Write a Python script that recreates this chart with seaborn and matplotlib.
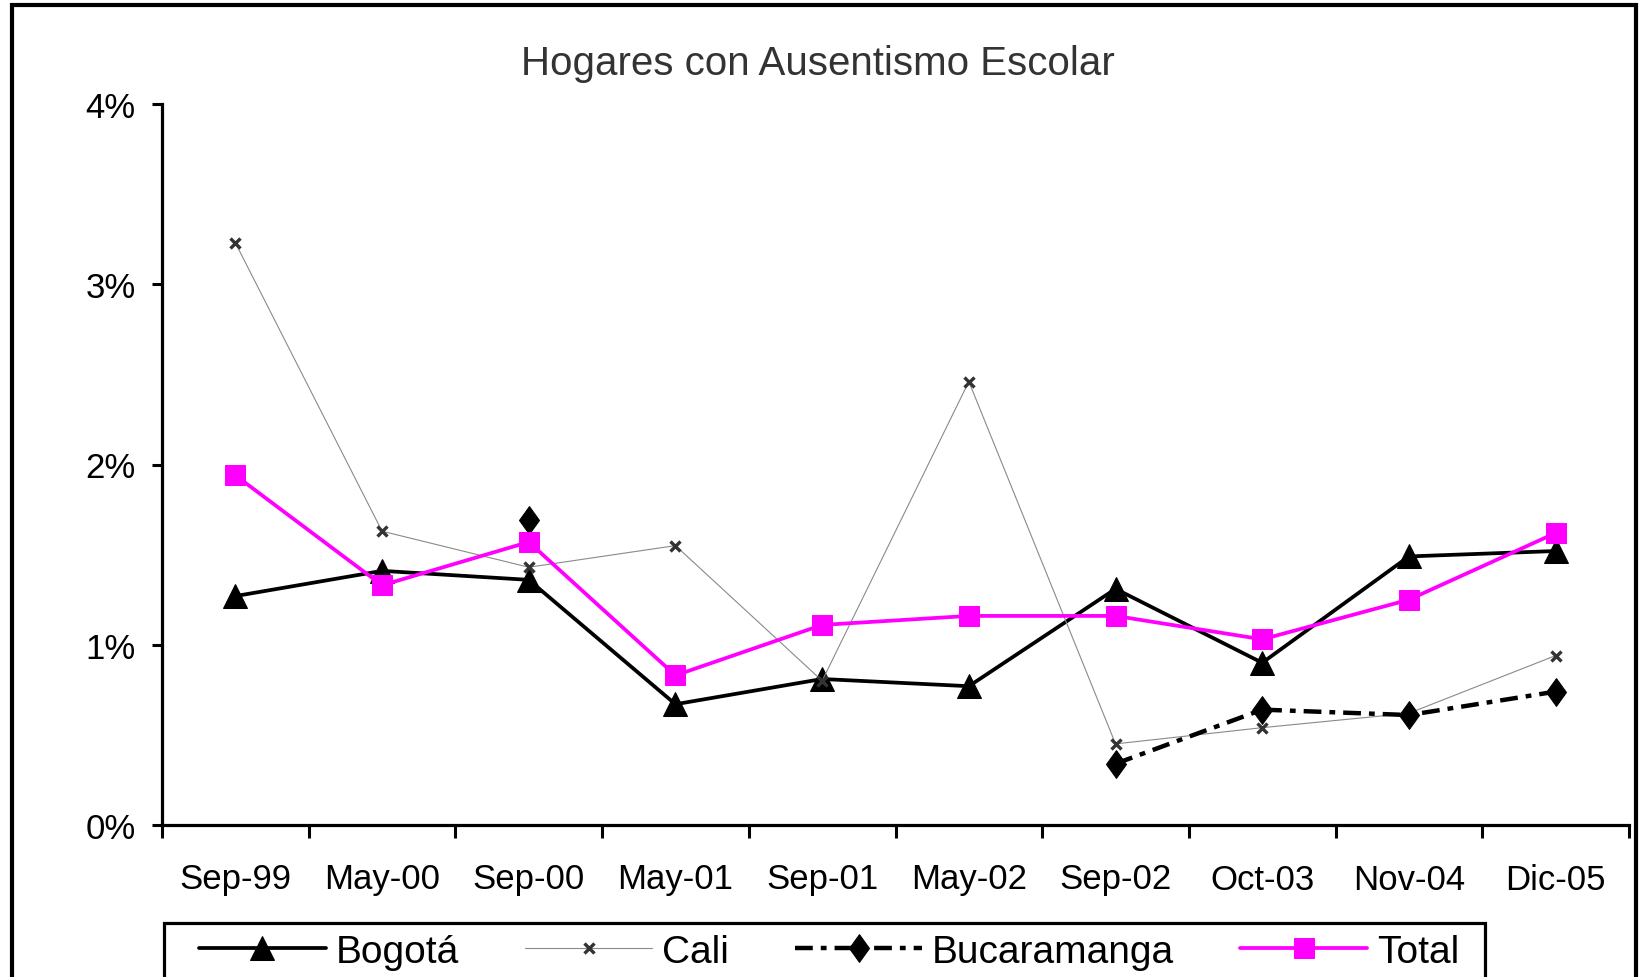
import matplotlib
matplotlib.use("Agg")
import matplotlib.pyplot as plt
import seaborn as sns
import numpy as np
from matplotlib.patches import Rectangle

# ---- data (percent) ----
periods = ["Sep-99", "May-00", "Sep-00", "May-01", "Sep-01", "May-02", "Sep-02", "Oct-03", "Nov-04", "Dic-05"]
bogota = [1.27, 1.41, 1.36, 0.67, 0.81, 0.77, 1.31, 0.90, 1.49, 1.52]
cali = [3.23, 1.63, 1.43, 1.55, 0.80, 2.46, 0.45, 0.54, 0.62, 0.94]
bucaramanga = [np.nan, np.nan, 1.69, np.nan, np.nan, np.nan, 0.34, 0.64, 0.61, 0.74]
total = [1.94, 1.33, 1.57, 0.83, 1.11, 1.16, 1.16, 1.03, 1.25, 1.62]
yticks = [0, 1, 2, 3, 4]
title = "Hogares con Ausentismo Escolar"

sns.set_theme(style="white")
FONT = ["Liberation Sans Narrow", "Liberation Sans", "DejaVu Sans"]
plt.rcParams["font.family"] = FONT

W, H = 1639, 978
fig = plt.figure(figsize=(W / 100, H / 100), dpi=100)
ax = fig.add_axes([162 / W, 1 - 826 / H, (1629 - 162) / W, (826 - 105) / H])

x = np.arange(len(periods))

sns.lineplot(x=x, y=bogota, ax=ax, color="black", linewidth=2.7, marker="^",
             markersize=17, markeredgecolor="black", markerfacecolor="black", label="Bogotá")
sns.lineplot(x=x, y=cali, ax=ax, color="#8a8a8a", linewidth=0.8, marker="x",
             markersize=7, markeredgewidth=2.4, markeredgecolor="#333333", label="Cali")

diamond = [(0, 1), (0.72, 0), (0, -1), (-0.72, 0), (0, 1)]
buc = np.array(bucaramanga)
seg_mask = x >= 6
sns.lineplot(x=x[seg_mask], y=buc[seg_mask], ax=ax, color="black", linewidth=3.2,
             linestyle=(0, (4, 1.8, 1.3, 1.8)), marker=diamond, markersize=20,
             markeredgecolor="black", markerfacecolor="black", label="Bucaramanga")
iso_mask = x == 2
sns.lineplot(x=x[iso_mask], y=buc[iso_mask], ax=ax, color="black", linewidth=0,
             marker=diamond, markersize=20, markeredgecolor="black",
             markerfacecolor="black", label="_nolegend_")

sns.lineplot(x=x, y=total, ax=ax, color="#ff00ff", linewidth=2.7, marker="s",
             markersize=14, markeredgecolor="#ff00ff", markerfacecolor="#ff00ff", label="Total")

ax.set_xlim(-0.5, len(periods) - 0.5)
ax.set_ylim(0, 4)

# y axis
ax.set_yticks(yticks)
ax.set_yticklabels([f"{v}%" for v in yticks])
ax.tick_params(axis="y", which="major", direction="out", length=7, width=2.2,
               color="black", labelsize=25, pad=12, left=True)

# x axis: ticks at boundaries, labels at centers
ax.set_xticks(np.arange(-0.5, len(periods), 1.0))
ax.set_xticklabels([])
ax.set_xticks(x, minor=True)
ax.set_xticklabels(periods, minor=True)
ax.tick_params(axis="x", which="major", direction="out", length=9, width=2.2,
               color="black", bottom=True)
ax.tick_params(axis="x", which="minor", length=0, labelsize=25, pad=27, bottom=True)

for s in ["top", "right"]:
    ax.spines[s].set_visible(False)
for s in ["left", "bottom"]:
    ax.spines[s].set_color("black")
    ax.spines[s].set_linewidth(2.3)
ax.grid(False)
ax.set_xlabel("")
ax.set_ylabel("")

for lab in ax.get_yticklabels() + ax.get_xticklabels(minor=True):
    lab.set_color("black")

fig.text(818 / W, 1 - 64 / H, title, ha="center", va="center", fontsize=29,
         color="#333333")

# legend (frameless, with a separate box)
handles, labels = ax.get_legend_handles_labels()
if ax.get_legend() is not None:
    ax.get_legend().remove()
leg = fig.legend(handles, labels, loc="center left", bbox_to_anchor=(199 / W, 1 - 953 / H),
                 bbox_transform=fig.transFigure, ncol=4, fontsize=28, frameon=False,
                 borderpad=0, handlelength=3.26, handletextpad=0.26, columnspacing=1.7,
                 borderaxespad=0)
for t in leg.get_texts():
    t.set_color("black")

fig.patches.append(Rectangle((164 / W, -0.05), (1485 - 164) / W, 0.05 + 1 - 924 / H,
                             transform=fig.transFigure, fill=False, edgecolor="black",
                             linewidth=2.3, zorder=10))

# outer border
fig.patches.append(Rectangle((12 / W, -0.05), (1636 - 12) / W, 1.05 - 6 / H,
                             transform=fig.transFigure, fill=False, edgecolor="black",
                             linewidth=3, zorder=10))

fig.savefig("out.png", dpi=100)
